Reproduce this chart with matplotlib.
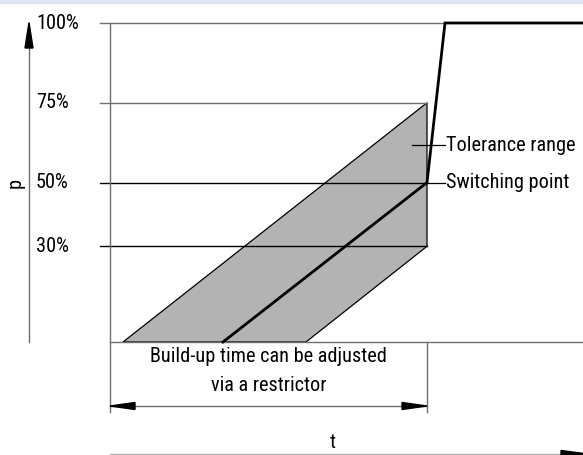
import matplotlib
matplotlib.use("Agg")
import matplotlib.pyplot as plt
from matplotlib import font_manager
from matplotlib.font_manager import FontProperties
from matplotlib.patches import Polygon, Rectangle

# Pressure levels marked on the p axis (percent)
levels = [100, 75, 50, 30]
level_labels = ["100%", "75%", "50%", "30%"]

# Time positions (arbitrary time units, 0 = start of pressure build-up)
t_end = 473
t_switch = 317          # switching point / end of adjustable build-up time
t_full = 335            # time at which full pressure is reached

# Nominal pressure build-up curve
curve_t = [113, t_switch, t_full, t_end]
curve_p = [0, 50, 100, 100]

# Tolerance band (parallelogram) around the nominal curve
band_t = [13, t_switch, t_switch, 196]
band_p = [0, 75, 30, 0]


def pick_font():
    """Prefer a narrow / condensed regular sans face if one is installed."""
    cands = []
    for f in font_manager.fontManager.ttflist:
        narrow = (f.stretch in ("condensed", "semi-condensed", "extra-condensed")
                  or "Condensed" in f.name or "Narrow" in f.name
                  or "Condensed" in f.fname or "Narrow" in f.fname)
        if narrow and f.style == "normal" and f.weight in (400, "normal", "regular"):
            cands.append(f)
    if cands:
        cands.sort(key=lambda f: ("Roboto" not in f.fname, "Open" not in f.fname, f.fname))
        return FontProperties(fname=cands[0].fname)
    return FontProperties(family=["Lato", "DejaVu Sans"])


fp = pick_font()
fs = 14.6
fp.set_size(fs)

W, H = 583, 455
fig = plt.figure(figsize=(W / 100, H / 100), dpi=100)
ax = fig.add_axes([0, 0, 1, 1])
ax.set_axis_off()

# scale: 3.19 px per percent, p=0 at pixel row 342, t=0 at pixel column 110
ppp = 3.19
ax.set_xlim(-110, W - 110)
ax.set_ylim(-(H - 342) / ppp, 342 / ppp)
px = lambda n: n / ppp   # pixel lengths to p units

grid_col = "#6e6e6e"

# thin band at top of the figure
fig.patches.append(Rectangle((0, 1 - 2.5 / H), 1, 2.5 / H, transform=fig.transFigure,
                             color="#dde6f2", zorder=0))

# tolerance band
ax.add_patch(Polygon(list(zip(band_t, band_p)), closed=True, facecolor="#b3b3b3",
                     edgecolor="black", lw=0.9, zorder=2))

# horizontal level lines: 100 % runs to full pressure, the others stop at switching time
for lv, lab in zip(levels, level_labels):
    col = grid_col if lv >= 75 else "black"
    x_stop = t_full if lv == 100 else t_switch
    ax.plot([-10, x_stop], [lv, lv], color=col, lw=1.0, zorder=3)
    ax.text(-74, lv, lab, fontproperties=fp, ha="left", va="center", zorder=5)

# baseline and vertical reference lines
ax.plot([0, t_end], [0, 0], color=grid_col, lw=1.0, zorder=3)
ax.plot([0, 0], [100, -px(70)], color=grid_col, lw=1.0, zorder=3)
ax.plot([t_switch, t_switch], [0, -px(70)], color=grid_col, lw=1.0, zorder=3)

# nominal curve
ax.plot(curve_t, curve_p, color="black", lw=2.0, zorder=4, solid_joinstyle="miter")

# p axis with arrow
ax.plot([-81, -81], [0, 100 - px(20)], color=grid_col, lw=1.0, zorder=3)
ax.add_patch(Polygon([(-81, 100 + px(0.5)), (-85, 100 - px(25)), (-77, 100 - px(25))],
                     closed=True, color="black", zorder=4))
ax.text(-95, 50, "p", fontproperties=fp, rotation=90, ha="center", va="center")

# dimension line for the build-up time
yd = -px(64)
ax.plot([0, t_switch], [yd, yd], color=grid_col, lw=1.0, zorder=3)
for x0, d in [(0, 1), (t_switch, -1)]:
    ax.add_patch(Polygon([(x0, yd), (x0 + d * 25, yd + px(3.5)), (x0 + d * 25, yd - px(3.5))],
                         closed=True, color="black", zorder=4))
ax.text(t_switch / 2, -px(15), "Build-up time can be adjusted", fontproperties=fp,
        ha="center", va="center")
ax.text(t_switch / 2, -px(43.5), "via a restrictor", fontproperties=fp,
        ha="center", va="center")

# time axis
yt = -px(112)
ax.plot([0, t_end], [yt, yt], color="#b0b0b0", lw=1.0, zorder=3)
ax.add_patch(Polygon([(451, yt + px(3.5)), (451, yt - px(3.5)), (478, yt)],
                     closed=True, color="black", zorder=4))
ax.text(223, -px(101), "t", fontproperties=fp, ha="center", va="center")

# annotations
y_tol = (342 - 145) / ppp
ax.plot([302, 335], [y_tol, y_tol], color="black", lw=0.9, zorder=5)
ax.text(336, y_tol, "Tolerance range", fontproperties=fp, ha="left", va="center")
ax.plot([t_switch, 335], [50, 50], color="black", lw=0.9, zorder=5)
ax.text(336, 50, "Switching point", fontproperties=fp, ha="left", va="center")

fig.savefig("out.png", dpi=100)
